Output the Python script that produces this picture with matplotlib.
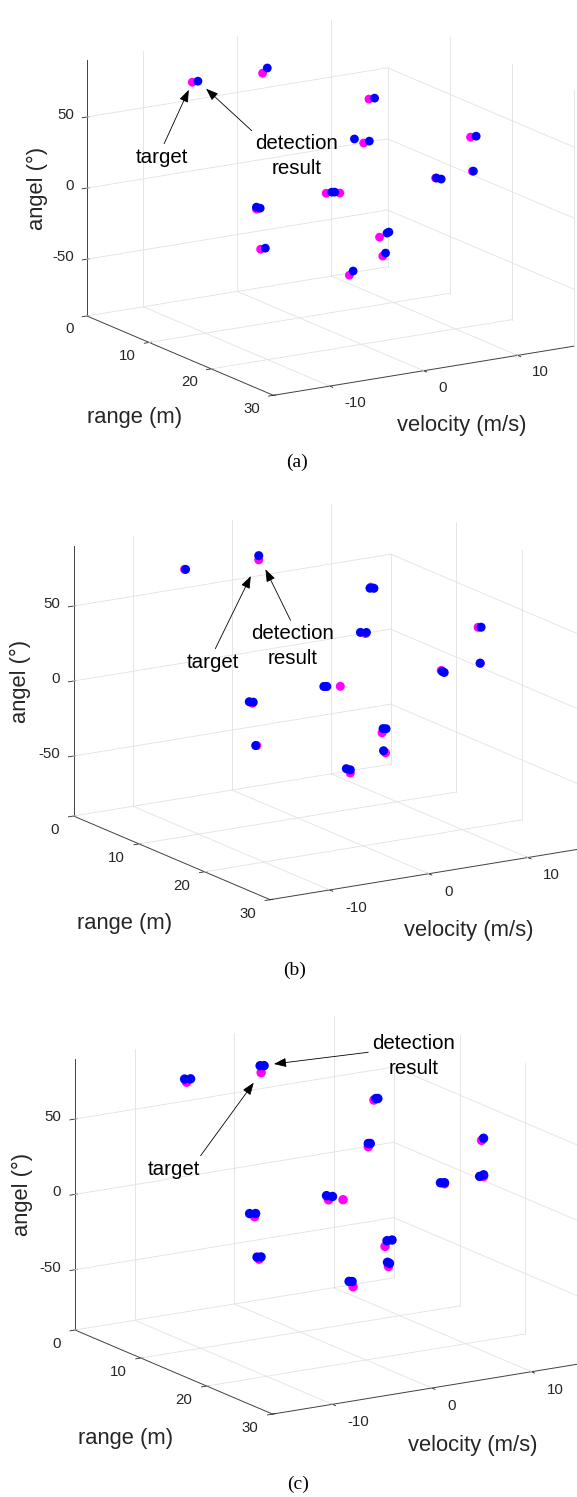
import numpy as np
import matplotlib
matplotlib.use("Agg")
import matplotlib.pyplot as plt
from mpl_toolkits.mplot3d import proj3d

plt.rcParams["font.family"] = ["Liberation Sans", "DejaVu Sans"]
plt.rcParams["axes.unicode_minus"] = False
plt.rcParams["axes.edgecolor"] = "#404040"
plt.rcParams["axes.linewidth"] = 0.7
plt.rcParams["xtick.color"] = "#262626"
plt.rcParams["ytick.color"] = "#262626"
plt.rcParams["xtick.major.width"] = 0.6
plt.rcParams["ytick.major.width"] = 0.6

# ground truth targets: velocity (m/s), range (m), angle (deg)
tgt_vel = [-8.1, -2.6, -5.9, -8.1, 7.4, 7.5, 0.2, 1.0, 11.6, 8.5, 9.2, 7.2, 4.9, -1.3]
tgt_rng = [5, 8, 12, 16, 10, 9, 14, 15, 20, 25, 18, 12, 16, 20]
tgt_ang = [75.2, 81.2, -3.4, -21.8, 55.9, 23.0, 4.9, 6.0, 43.2, 31.9, 13.3, -37.3, -40.7, -40.0]

# detection results, panel (a)
det_a_vel = [-7.5, -2.1, -5.5, -5.9, -7.6, 8.0, 8.5, 8.1, 0.8, 1.1, 12.2, 8.6, 9.3, 9.8, 8.0, 8.2, 5.2, -0.9]
det_a_rng = [5, 8, 12, 12, 16, 10, 6, 9, 14, 14, 20, 25, 18, 18, 12, 12, 16, 20]
det_a_ang = [75.3, 84.3, -3.2, -2.0, -21.6, 55.9, 19.2, 23.7, 5.0, 4.7, 43.2, 31.8, 13.2, 11.9, -35.3, -34.8, -38.9, -37.5]

# detection results, panel (b)
det_b_vel = [-8.0, -2.6, -6.2, -5.8, -8.2, 7.3, 7.7, 7.0, 7.6, 0.0, 0.3, 11.9, 8.5, 9.3, 9.5, 7.3, 7.6, 4.7, -1.7, -1.3]
det_b_rng = [5, 8, 12, 12, 16, 10, 10, 9, 9, 14, 14, 20, 25, 18, 18, 12, 12, 16, 20, 20]
det_b_ang = [75.1, 84.0, -2.1, -2.8, -21.7, 55.3, 54.8, 24.3, 23.6, 5.1, 4.8, 42.9, 31.9, 12.5, 11.6, -34.6, -35.0, -39.1, -36.7, -37.9]

# detection results, panel (c)
det_c_vel = [-8.3, -7.7, -2.7, -2.3, -6.4, -5.8, -8.3, -7.9, 7.6, 7.8, 7.5, 7.7, 0.0, 0.6, 11.8, 8.1, 8.5, 8.8, 9.2, 7.4, 7.9, 4.8, 5.0, -1.7, -1.4]
det_c_rng = [5, 5, 8, 8, 12, 12, 16, 16, 10, 10, 9, 9, 14, 14, 20, 25, 25, 18, 18, 12, 12, 16, 16, 20, 20]
det_c_ang = [77.5, 77.0, 85.9, 85.5, -0.8, -1.4, -20.2, -20.5, 56.7, 56.5, 25.1, 24.9, 7.9, 6.7, 44.4, 32.4, 33.0, 14.4, 14.0, -33.7, -33.8, -37.8, -38.7, -36.0, -36.4]

vel_lim = (-16, 16)
rng_lim = (30, 0)
ang_lim = (-90, 90)
vel_ticks = [-10, 0, 10]
rng_ticks = [0, 10, 20, 30]
ang_ticks = [-50, 0, 50]

W, H = 577, 1497
fig = plt.figure(figsize=(W / 100, H / 100), dpi=100)

# corner = pixel of (vel min, range 0, angle min) corner; scale relative to (a)
panels = [
    dict(det=(det_a_vel, det_a_rng, det_a_ang), corner=(87, 316), scale=1.0, cap="(a)", ms=40,
         t_idx=0, d_idx=0, t_off=(-30, -75), t_rel=(0.5, 1), t_shr=6,
         d_off=(99, -75), d_rel=(0, 1), d_shr=8),
    dict(det=(det_b_vel, det_b_rng, det_b_ang), corner=(73.5, 816), scale=1.055, cap="(b)", ms=42,
         t_idx=1, d_idx=1, t_off=(-43, -97), t_rel=(0.5, 1), t_shr=13,
         d_off=(32, -86), d_rel=(0.5, 1), d_shr=11),
    dict(det=(det_c_vel, det_c_rng, det_c_ang), corner=(75, 1330), scale=1.06, cap="(c)", ms=46,
         t_idx=1, d_idx=2, t_off=(-82, -91), t_rel=(0.95, 1), t_shr=9,
         d_off=(145, 9), d_rel=(0, 0.6), d_shr=10),
]

grid_kw = dict(color="#e2e2e2", lw=0.6, zorder=0)
v0, v1 = vel_lim
r0, r1 = rng_lim[1], rng_lim[0]
z0, z1 = ang_lim

axes = []
for p in panels:
    ax = fig.add_axes([0.1, 0.1, 0.5, 0.5 * W / H], projection="3d", proj_type="ortho")
    ax.patch.set_visible(False)
    ax.view_init(elev=15.3, azim=-121.8)
    ax.set_box_aspect((4, 4, 3))
    ax.computed_zorder = False
    ax.grid(False)

    # MATLAB-like grid on floor, back wall and right wall
    for v in vel_ticks:
        ax.plot([v, v], [r0, r1], [z0, z0], **grid_kw)
        ax.plot([v, v], [r0, r0], [z0, z1], **grid_kw)
    for r in rng_ticks:
        if r != r1:  # front edge carries the velocity axis line
            ax.plot([v0, v1], [r, r], [z0, z0], **grid_kw)
        ax.plot([v1, v1], [r, r], [z0, z1 if r != r0 else ang_ticks[-1]], **grid_kw)
    for z in ang_ticks:
        ax.plot([v0, v1], [r0, r0], [z, z], **grid_kw)
        ax.plot([v1, v1], [r0, r1], [z, z], **grid_kw)

    ax.scatter(tgt_vel, tgt_rng, tgt_ang, c="#ff00ff", s=p["ms"], depthshade=False,
               edgecolors="none", zorder=1)
    dv, dr, da = p["det"]
    ax.scatter(dv, dr, da, c="#0000ff", s=p["ms"], depthshade=False, edgecolors="none", zorder=2)
    ax.set_xlim(*vel_lim)
    ax.set_ylim(*rng_lim)
    ax.set_zlim(*ang_lim)
    ax.set_xticks(vel_ticks)
    ax.set_yticks(rng_ticks)
    ax.set_zticks(ang_ticks)
    ax.set_xticklabels([])
    ax.set_yticklabels([])
    ax.set_zticklabels([])
    for axis in (ax.xaxis, ax.yaxis, ax.zaxis):
        axis.set_pane_color((1, 1, 1, 0))
        axis.line.set_color("#404040")
        axis.line.set_linewidth(0.7)
    axes.append(ax)

fig.canvas.draw()

tick_kw = dict(xycoords="data", textcoords="offset pixels", va="center", fontsize=10.8,
               color="#262626", annotation_clip=False)

# place each 3D box so that its bottom corners land where the reference has them
for ax, p in zip(axes, panels):
    M = ax.get_proj()
    xs, ys, _ = proj3d.proj_transform(np.array([v0, v1]), np.array([r0, r1]),
                                      np.array([z0, z0]), M)
    u = ax.transLimits.transform(np.c_[xs, ys])
    ax0, ay0 = p["corner"]
    sc = p["scale"]
    cx = ax0 + sc * 487
    side = (cx - ax0) / (u[1, 0] - u[0, 0])
    left = ax0 - side * u[0, 0]
    bottom = (H - ay0) - side * u[0, 1]
    ax.set_position([left / W, bottom / H, side / W, side / H])

    # tick labels, MATLAB-like placement
    for t in vel_ticks:
        x, y, _ = proj3d.proj_transform(t, r1, z0, M)
        ax.annotate(str(t), xy=(x, y), xytext=(14.5 * sc, -17 * sc), ha="left", **tick_kw)
    for t in rng_ticks:
        x, y, _ = proj3d.proj_transform(v0, t, z0, M)
        ax.annotate(str(t), xy=(x, y), xytext=(-13.5 * sc, -13.3 * sc), ha="right", **tick_kw)
    for t in ang_ticks:
        x, y, _ = proj3d.proj_transform(v0, r0, t, M)
        ax.annotate(str(t), xy=(x, y), xytext=(-13 * sc, 2 * sc), ha="right", **tick_kw)

    def fpos(dx, dy):
        return (ax0 + sc * dx) / W, 1 - (ay0 + sc * dy) / H

    fig.text(*fpos(-50, -128), "angel (°)", rotation=90, ha="center", va="center",
             fontsize=15.8, color="#262626")
    fig.text(*fpos(48, 102), "range (m)", ha="center", va="center", fontsize=15.8, color="#262626")
    fig.text(*fpos(375, 109), "velocity (m/s)", ha="center", va="center", fontsize=15.8,
             color="#262626")
    fig.text(*fpos(210, 146), p["cap"], ha="center", va="center", fontsize=14,
             family="Liberation Serif")

    # annotation arrows pointing at one target and its detection
    ti = p["t_idx"]
    tx, ty, _ = proj3d.proj_transform(tgt_vel[ti], tgt_rng[ti], tgt_ang[ti], M)
    di = p["d_idx"]
    dv, dr, da = p["det"]
    qx, qy, _ = proj3d.proj_transform(dv[di], dr[di], da[di], M)
    arrow = "-|>,head_length=0.75,head_width=0.28"
    ax.annotate("target", xy=(tx, ty), xycoords="data",
                xytext=(p["t_off"][0] * sc, p["t_off"][1] * sc), textcoords="offset pixels",
                ha="center", va="center", fontsize=14.8, annotation_clip=False,
                arrowprops=dict(arrowstyle=arrow, color="k", lw=0.6, shrinkA=1,
                                shrinkB=p["t_shr"], relpos=p["t_rel"], mutation_scale=10))
    ax.annotate("detection\nresult", xy=(qx, qy), xycoords="data",
                xytext=(p["d_off"][0] * sc, p["d_off"][1] * sc), textcoords="offset pixels",
                ha="center", va="center", fontsize=14.8, linespacing=1.4, annotation_clip=False,
                arrowprops=dict(arrowstyle=arrow, color="k", lw=0.6, shrinkA=1,
                                shrinkB=p["d_shr"], relpos=p["d_rel"], mutation_scale=10))

fig.savefig("out.png", dpi=100, facecolor="white")
